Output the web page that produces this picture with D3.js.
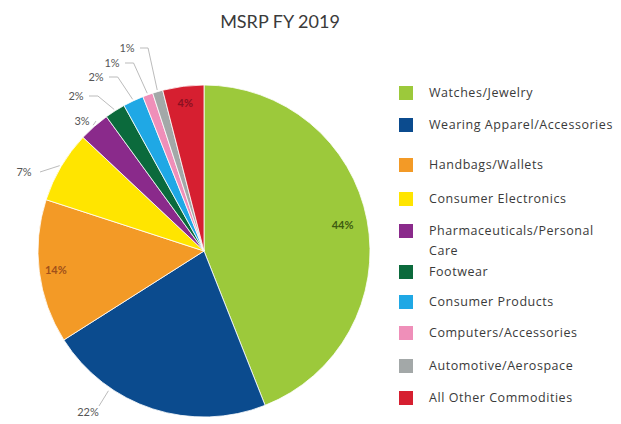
<!DOCTYPE html>
<html><head><meta charset="utf-8">
<script src="https://cdn.jsdelivr.net/npm/d3@7"></script>
<style>body{margin:0;background:#fff;} text{font-family:"Open Sans","Lato",sans-serif;}</style>
</head><body>
<svg id="c" width="621" height="424"></svg>
<script>
const categories = ["Watches/Jewelry","Wearing Apparel/Accessories","Handbags/Wallets","Consumer Electronics","Pharmaceuticals/Personal Care","Footwear","Consumer Products","Computers/Accessories","Automotive/Aerospace","All Other Commodities"];
const values = [44,22,14,7,3,2,2,1,1,4];
const colors = ["#9cc93b","#0b4b8e","#f39a26","#ffe500","#8a2a8b","#0b6a3c","#1fa8e5","#ef8fb9","#a3a8a8","#d61f30"];
const legendLines = [["Watches/Jewelry"],["Wearing Apparel/Accessories"],["Handbags/Wallets"],["Consumer Electronics"],["Pharmaceuticals/Personal","Care"],["Footwear"],["Consumer Products"],["Computers/Accessories"],["Automotive/Aerospace"],["All Other Commodities"]];
const legendY = [93,125,165,199,231,272,302,333,366,398];
const title = "MSRP FY 2019";

const svg = d3.select("#c");
const cx = 204, cy = 251, r = 166;
const data = categories.map((c,i)=>({c, v: values[i], col: colors[i]}));
const pie = d3.pie().value(d=>d.v).sort(null);
const arcs = pie(data);
const arc = d3.arc().innerRadius(0).outerRadius(r);
const g = svg.append("g").attr("transform",`translate(${cx},${cy})`);
g.selectAll("path").data(arcs).enter().append("path")
  .attr("d",arc).attr("fill",d=>d.data.col)
  .attr("stroke","#fff").attr("stroke-width",0.8);

svg.append("text").attr("x",280).attr("y",28).attr("text-anchor","middle")
  .style("font-family","Lato, sans-serif")
  .attr("font-size",18).attr("fill","#3a3a3a").text(title);

// inside labels
const inside = {0:{r:0.85,col:"#3d5a10"},2:{r:0.9,col:"#a0501a"},9:{r:0.9,col:"#8a1020"}};
arcs.forEach((a,i)=>{
  const mid = (a.startAngle+a.endAngle)/2;
  if (inside[i]) {
    const rr = r*inside[i].r;
    g.append("text").attr("x",rr*Math.sin(mid)).attr("y",-rr*Math.cos(mid)+4)
      .attr("text-anchor","middle").attr("font-size",11).attr("font-weight","bold")
      .style("font-family","Lato, sans-serif")
      .attr("fill",inside[i].col).text(a.data.v+"%");
  }
});
// outside labels with leaders
const outside = {1:{lx:-116,ly:161},3:{lx:-180,ly:-79},4:{lx:-122,ly:-130},5:{lx:-128,ly:-155},6:{lx:-108,ly:-174},7:{lx:-92,ly:-188},8:{lx:-77,ly:-203}};
arcs.forEach((a,i)=>{
  const o = outside[i]; if(!o) return;
  const mid = (a.startAngle+a.endAngle)/2;
  const px = r*Math.sin(mid), py = -r*Math.cos(mid);
  const p1 = [px*1.01, py*1.01];
  let pts;
  if (i===1) {
    const ang = Math.atan2(-136, -93);
    pts=[[o.lx+11,o.ly-6],[r*Math.cos(ang)*1.02, -r*Math.sin(ang)*1.02]];
  }
  else if (i===3) pts=[p1,[o.lx+16,o.ly]];
  else if (i===4) pts=[p1,[o.lx+14,o.ly]];
  else pts=[p1,[(o.lx+20)+(px-(o.lx+20))*0.1,o.ly],[o.lx+13,o.ly]];
  g.append("path").attr("d",d3.line()(pts)).attr("fill","none").attr("stroke","#aaa").attr("stroke-width",0.8);
  g.append("text").attr("x",o.lx).attr("y",o.ly+4).attr("text-anchor","middle")
    .style("font-family","Lato, sans-serif")
    .attr("font-size",11).attr("fill","#555").text(a.data.v+"%");
});

const lg = svg.append("g");
legendLines.forEach((lines,i)=>{
  lg.append("rect").attr("x",399).attr("y",legendY[i]-7).attr("width",14).attr("height",14).attr("fill",colors[i]);
  lines.forEach((t,j)=>{
    lg.append("text").attr("x",429).attr("y",legendY[i]+4+j*20).attr("font-size",12.5)
      .attr("letter-spacing",0.55).attr("fill","#3a3a3a").text(t);
  });
});
</script>
</body></html>
